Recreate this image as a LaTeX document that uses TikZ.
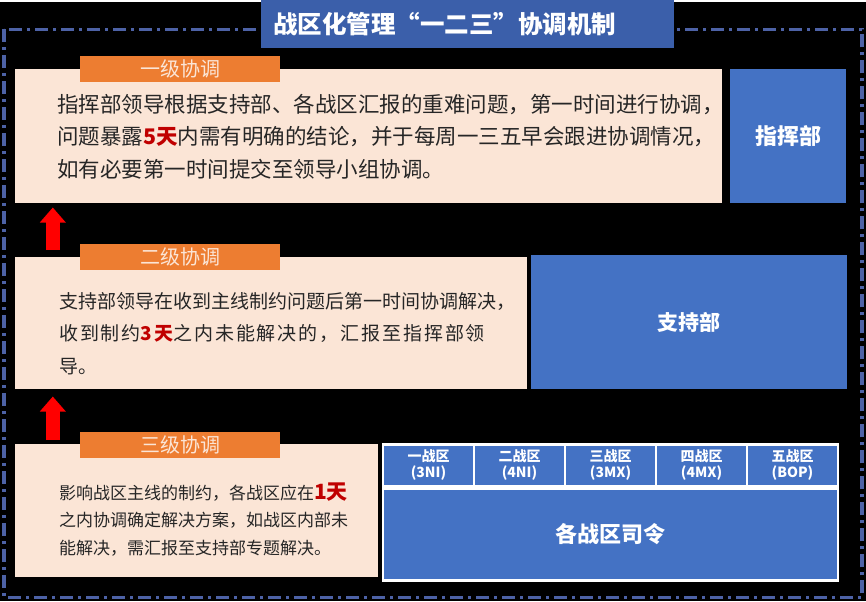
\documentclass[tikz,border=0pt]{standalone}
\usepackage{fontspec}
\newfontfamily\cjk{Noto Sans CJK SC}
\usetikzlibrary{arrows.meta}
\definecolor{boxblue}{HTML}{4472C4}
\definecolor{titleblue}{HTML}{3B5FAA}
\definecolor{tabor}{HTML}{ED7D31}
\definecolor{pinkbg}{HTML}{FBE5D6}
\definecolor{framec}{HTML}{4D62A6}
\definecolor{hotred}{HTML}{C00000}
\definecolor{inkc}{HTML}{262626}
\newcommand{\hot}[1]{{\bfseries\color{hotred}#1}}
\tikzset{
  pinkbox/.style={fill=pinkbg, inner sep=0pt},
  tabbox/.style={fill=tabor, inner sep=0pt, minimum width=200pt, minimum height=26pt,
    text=pinkbg, font=\cjk\fontsize{20}{24}\selectfont},
  bluebox/.style={fill=boxblue, inner sep=0pt, text=white},
  cellbox/.style={bluebox, draw=white, line width=2.5pt, align=center,
    font=\cjk\bfseries\fontsize{14}{16}\selectfont},
  bodytext/.style={anchor=west, align=left, inner sep=0pt, text=inkc},
  uparrow/.style={draw=red, line width=14pt, -{Triangle[width=25pt,length=15pt]}}
}

\begin{document}
\begin{tikzpicture}[x=1pt, y=-1pt]
		%%%%% START %%%%%
		\fill[black] (0, 0) rectangle (866, 599);
		\draw[framec, line width=3.5pt, dash pattern=on 13pt off 5pt on 3pt off 5pt] (4, 27) rectangle (862, 595);
		
		% title
		\node[fill=titleblue, text=white, inner sep=12pt, text width=389pt, align=left, minimum height=43pt,
		  font=\cjk\bfseries\fontsize{24.5}{28}\selectfont] (title) at (467.5, 21.5) {战区化管理“一二三”协调机制};
		
		% level one
		\node[pinkbox, minimum width=707pt, minimum height=134pt] (lvl1) at (368.5, 134) {};
		\node[tabbox] (tab1) at (180, 67) {一级协调};
		\node[bodytext, font=\cjk\fontsize{21.5}{32.5}\selectfont] (txt1) at (57, 134)
		  {指挥部领导根据支持部、各战区汇报的重难问题，第一时间进行协调，\\
		   问题暴露\hot{5天}内需有明确的结论，并于每周一三五早会跟进协调情况，\\
		   如有必要第一时间提交至领导小组协调。};
		\node[bluebox, minimum width=116pt, minimum height=134pt,
		  font=\cjk\bfseries\fontsize{22}{26}\selectfont] (zhb) at (788, 134) {指挥部};
		
		% level two
		\node[pinkbox, minimum width=512pt, minimum height=132pt] (lvl2) at (271, 321) {};
		\node[tabbox] (tab2) at (180, 255) {二级协调};
		\node[bodytext, font=\cjk\fontsize{19}{32.5}\selectfont] (txt2) at (59, 331)
		  {支持部领导在收到主线制约问题后第一时间协调解决，\\
		   {\addfontfeature{LetterSpace=10}收到制约\hot{3天}之内未能解决的，汇报至指挥部领}\\
		   导。};
		\node[bluebox, minimum width=316pt, minimum height=134pt,
		  font=\cjk\bfseries\fontsize{21}{25}\selectfont] (zcb) at (689, 320) {支持部};
		
		% level three
		\node[pinkbox, minimum width=363pt, minimum height=133pt] (lvl3) at (196.5, 508.5) {};
		\node[tabbox] (tab3) at (180, 443) {三级协调};
		\node[bodytext, font=\cjk\fontsize{17}{27.5}\selectfont] (txt3) at (59, 517)
		  {影响战区主线的制约，各战区应在{\fontsize{21}{27.5}\selectfont\hot{1天}}\\
		   之内协调确定解决方案，如战区内部未\\
		   能解决，需汇报至支持部专题解决。};
		
		% theatres
		\foreach \name/\code [count=\i] in {一战区/3NI, 二战区/4NI, 三战区/3MX, 四战区/4MX, 五战区/BOP}
		  \node[cellbox, minimum width=91pt, minimum height=42pt] (cell\i) at (337.5+91*\i, 463) {\name\\(\code)};
		\node[cellbox, minimum width=455pt, minimum height=92pt,
		  font=\cjk\bfseries\fontsize{22}{26}\selectfont] (cmd) at (610.5, 532) {各战区司令};
		
		% escalation arrows
		\draw[uparrow] ([xshift=38pt, yshift=7pt]lvl2.north west) -- ([xshift=38pt, yshift=-4pt]lvl1.south west);
		\draw[uparrow] ([xshift=38pt, yshift=4pt]lvl3.north west) -- ([xshift=38pt, yshift=-7pt]lvl2.south west);
		%%%%% END %%%%%
\end{tikzpicture}
\end{document}
